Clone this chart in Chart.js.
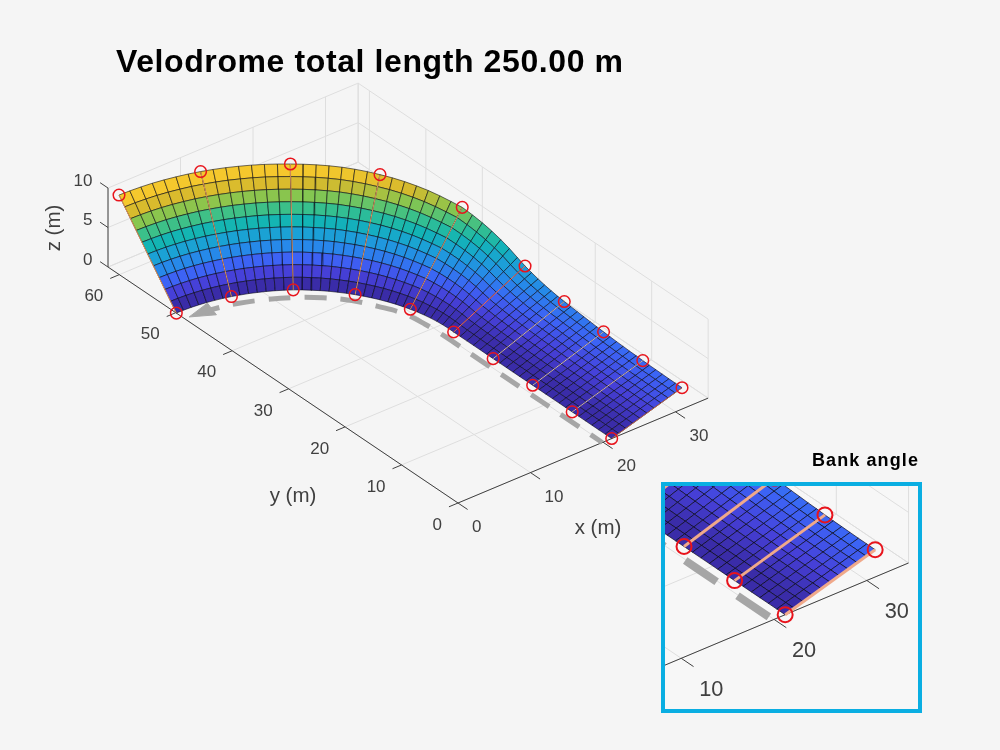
<!DOCTYPE html>
<html><head><meta charset="utf-8">
<script src="https://cdn.jsdelivr.net/npm/chart.js@4"></script>
<style>
html,body{margin:0;padding:0;background:#f5f5f5;width:1000px;height:750px;overflow:hidden}
#main{position:absolute;left:0;top:0}
#box{position:absolute;left:661px;top:482px;width:253px;height:223px;border:4px solid #0aaee2;background:#f7f7f7}
#inset{position:absolute;left:0;top:0;filter:blur(.35px)}
</style></head><body>
<canvas id="main" width="1000" height="750"></canvas>
<div id="box"><canvas id="inset" width="253" height="223"></canvas></div>
<script>
// ---------- values (metres) ----------
const chartTitle = "Velodrome total length 250.00 m";
const insetTitle = "Bank angle";
const xTicks = [0,10,20,30];
const yTicks = [0,10,20,30,40,50,60];
const zTicks = [0,5,10];
const xLimit = 34.5, yLimit = 62, zLimit = 10;
const rowFractions = [0,.1,.2,.3,.4,.5,.6,.7,.8,.9,1];
// inner (z = 0) edge of the track, one value per mesh column
const innerX = [21.2,21.2,21.2,21.2,21.2,21.2,21.2,21.2,21.2,21.2,21.2,21.2,21.2,21.2,21.2,21.2,21.2,21.2,21.2,21.2,21.2,21.2,21.2,21.2,21.2,
 21.21,21.18,21.11,20.99,20.83,20.63,20.38,20.10,19.77,19.40,18.99,18.54,18.05,17.53,16.97,16.36,15.74,15.07,14.36,13.64,12.87,12.06,11.23,10.38,9.50,8.61,7.70,6.77,5.83,4.87,3.91,2.94,1.96,0.98,0];
const innerY = [0,1.17,2.33,3.5,4.67,5.83,7,8.17,9.33,10.5,11.67,12.83,14,15.17,16.33,17.5,18.67,19.83,21,22.17,23.33,24.5,25.67,26.83,28,
 28.95,29.91,30.86,31.81,32.75,33.69,34.62,35.54,36.45,37.34,38.22,39.08,39.92,40.74,41.53,42.30,43.05,43.76,44.44,45.10,45.72,46.28,46.80,47.29,47.73,48.14,48.50,48.83,49.11,49.35,49.55,49.70,49.81,49.88,49.90];
// outer (banked) edge of the track
const outerX = [30.9,30.91,30.91,30.92,30.93,30.93,30.94,30.95,30.95,30.96,30.96,30.97,30.98,30.98,30.99,31.0,31.0,31.01,31.01,31.02,31.03,31.03,31.04,31.04,31.05,
 31.08,31.07,30.98,30.82,30.61,30.32,29.96,29.44,28.92,28.34,27.69,27.00,26.25,25.44,24.59,23.68,22.73,21.73,20.69,19.61,18.49,17.35,16.18,14.97,13.72,12.45,11.14,9.81,8.46,7.08,5.69,4.28,2.86,1.44,0];
const outerY = [0,1.17,2.33,3.5,4.67,5.83,7,8.17,9.33,10.5,11.67,12.83,14,15.17,16.33,17.5,18.67,19.83,21,22.17,23.33,24.5,25.67,26.83,28,
 29.40,30.80,32.20,33.60,34.99,36.37,37.73,39.05,40.36,41.65,42.90,44.13,45.33,46.49,47.61,48.69,49.73,50.73,51.68,52.59,53.44,54.28,55.08,55.81,56.49,57.12,57.69,58.20,58.66,59.04,59.37,59.64,59.84,59.98,60.05];
const outerZ = [2.70,2.70,2.70,2.71,2.72,2.73,2.75,2.78,2.81,2.85,2.89,2.94,3.00,3.06,3.13,3.21,3.29,3.37,3.45,3.55,3.68,3.85,4.05,4.29,4.56,
 4.95,5.42,5.90,6.38,6.83,7.28,7.72,8.03,8.31,8.58,8.82,9.03,9.22,9.38,9.54,9.68,9.80,9.88,9.95,10.0,10.05,10.08,10.10,10.12,10.13,10.14,10.14,10.14,10.13,10.12,10.11,10.10,10.08,10.06,10.05];
const stationColumns = [0,6,12,18,24,31,38,45,52,59];
// dashed direction-of-travel guide on the floor
const guideX = [19.9,19.9,19.9,19.9,19.9,19.75,19.3,18.0,16.5,14.4,12.0,9.3,6.4,3.3,1.2];
const guideY = [0,7,14,21,28,31.2,34.3,37.3,40.0,42.4,44.4,46.0,47.3,48.1,48.4];
const arrowX = [0.6,3.9,3.2,0.6];
const arrowY = [48.4,49.4,46.9,48.4];
// surface colour by height (z = 0.5, 1.5 ... 9.5)
const colourStops = ["#3a2ca8","#4640d8","#3d62f5","#2788ea","#1ba1d6","#12b4b5","#38c08c","#85c650","#d7ba2d","#f5c82d"];
const stationLineColours = ["#b4604a","#cbb0a8","#cdb8b0","#d0b4a8","#f86a55","#d98a60","#d99060","#d99060","#d99060","#d98a50"];

// ---------- 3-D view ----------
function project(x,y,z){ return {x:7.25*x-5.645*y, y:3.04*x+3.806*y+7.9*z}; }
function hex(c){ return [1,3,5].map(i=>parseInt(c.substr(i,2),16)); }
function colourFor(z){
  const t=Math.max(0,Math.min(colourStops.length-1,z-0.5)), i=Math.min(colourStops.length-2,Math.floor(t)), f=t-i;
  const a=hex(colourStops[i]), b=hex(colourStops[i+1]);
  return `rgb(${a.map((v,k)=>Math.round(v+(b[k]-v)*f)).join(",")})`;
}
function line(pts,colour,width,order,extra){
  return Object.assign({data:pts.map(p=>project(p[0],p[1],p[2])),showLine:true,pointRadius:0,borderColor:colour,borderWidth:width,order:order},extra||{});
}
function meshPoint(c,f){ return [innerX[c]+(outerX[c]-innerX[c])*f, innerY[c]+(outerY[c]-innerY[c])*f, outerZ[c]*f]; }

function buildDatasets(k,inset){
  const ds=[], grid="#dedede", ax="#404040";
  const xs=[...xTicks,xLimit], ys=[...yTicks,yLimit], zs=[...zTicks];
  xs.forEach(x=>{ ds.push(line([[x,0,0],[x,yLimit,0],[x,yLimit,zLimit]],grid,1,50)); });
  ys.forEach(y=>{ ds.push(line([[0,y,0],[xLimit,y,0],[xLimit,y,zLimit]],grid,1,50)); });
  zs.forEach(z=>{ ds.push(line([[0,yLimit,z],[xLimit,yLimit,z],[xLimit,0,z]],grid,1,50)); });
  ds.push(line([[0,yLimit,0],[0,0,0],[xLimit,0,0]],ax,1,45));
  ds.push(line([[0,yLimit,0],[0,yLimit,zLimit]],ax,1,45));
  xTicks.forEach(x=>ds.push(line([[x,0,0],[x,-1.7,0]],ax,1,45)));
  yTicks.forEach(y=>ds.push(line([[0,y,0],[-1.25,y,0]],ax,1,45)));
  zTicks.forEach(z=>ds.push(line([[0,yLimit,z],[0,yLimit+1.4,z]],ax,1,45)));
  // guide
  ds.push(line(guideX.map((x,i)=>[x,guideY[i],0]),"#a6a6a6",inset?8:5,40,{tension:.4,borderDash:inset?[38,25]:[22,14],borderDashOffset:inset?-5:8,borderCapStyle:"butt"}));
  ds.push(line(arrowX.map((x,i)=>[x,arrowY[i],0]),"#a6a6a6",1,40,{polyFill:"#a6a6a6"}));
  // surface cells
  for(let c=0;c<innerX.length-1;c++){
    for(let r=0;r<rowFractions.length-1;r++){
      const a=meshPoint(c,rowFractions[r]), b=meshPoint(c+1,rowFractions[r]), d=meshPoint(c,rowFractions[r+1]), e=meshPoint(c+1,rowFractions[r+1]);
      ds.push(line([a,b,e,d,a],"rgba(5,5,15,.72)",inset?0.9:0.8,30,{polyFill:colourFor((a[2]+b[2]+d[2]+e[2])/4)}));
    }
  }
  // bank lines + markers
  stationColumns.forEach((c,i)=>{
    ds.push(line([meshPoint(c,0),meshPoint(c,1)],inset?"#f0a98a":stationLineColours[i],inset?3:1,20));
  });
  const ring=cols=>cols.map(p=>project(p[0],p[1],p[2]));
  ds.push({data:ring(stationColumns.map(c=>meshPoint(c,0))),showLine:false,pointRadius:inset?7.5:5.8,pointBackgroundColor:"rgba(0,0,0,0)",pointBorderColor:"#e8141c",pointBorderWidth:inset?2:1.5,order:10});
  ds.push({data:ring(stationColumns.map(c=>meshPoint(c,1))),showLine:false,pointRadius:inset?7.5:5.8,pointBackgroundColor:"rgba(0,0,0,0)",pointBorderColor:"#e8141c",pointBorderWidth:inset?2:1.5,order:10});
  return ds;
}

const polygonFill={id:"polygonFill",beforeDatasetDraw(chart,args){
  const f=chart.data.datasets[args.index].polyFill; if(!f) return;
  const pts=args.meta.data, g=chart.ctx; g.save(); g.beginPath();
  pts.forEach((p,i)=>i?g.lineTo(p.x,p.y):g.moveTo(p.x,p.y)); g.closePath(); g.fillStyle=f; g.fill(); g.restore();
}};
const tickText={id:"tickText",afterDraw(chart){
  const o=chart.options.plugins.tickText, k=o.k, g=chart.ctx, sx=chart.scales.x, sy=chart.scales.y;
  const at=(x,y,z)=>{const p=project(x,y,z);return [sx.getPixelForValue(p.x),sy.getPixelForValue(p.y)];};
  g.save(); g.fillStyle="#404040"; g.font=`${17*k}px "Liberation Sans"`; g.textBaseline="middle";
  g.textAlign="left";
  xTicks.forEach(x=>{const [a,b]=at(x,0,0); g.fillText(String(x),a+14*k,b+24.5*k);});
  g.textAlign="right";
  yTicks.forEach(y=>{const [a,b]=at(0,y,0); g.fillText(String(y),a-16*k,b+22*k);});
  zTicks.forEach(z=>{const [a,b]=at(0,yLimit,z); g.fillText(String(z),a-15.5*k,b-7*k);});
  if(o.labels){
    g.font='20.5px "Liberation Sans"'; g.textAlign="center";
    g.fillText("x (m)",598,528); g.fillText("y (m)",293,496);
    g.save(); g.translate(54,228); g.rotate(-Math.PI/2); g.fillText("z (m)",0,0); g.restore();
    g.fillStyle="#000"; g.textAlign="left"; g.textBaseline="alphabetic";
    g.font='bold 32px "Liberation Sans"'; if("letterSpacing" in g) g.letterSpacing="0.6px"; g.fillText(chartTitle,116,72);
    g.font='bold 18px "Liberation Sans"'; if("letterSpacing" in g) g.letterSpacing="1.1px"; g.textAlign="right"; g.fillText(insetTitle,919,466);
  }
  g.restore();
}};
function make(id,k,inset,xr,yr){
  return new Chart(document.getElementById(id),{type:"scatter",plugins:[polygonFill,tickText],
    data:{datasets:buildDatasets(k,inset)},
    options:{responsive:false,animation:false,devicePixelRatio:1,events:[],
      layout:{padding:0,autoPadding:false},
      scales:{x:{type:"linear",display:false,min:xr[0],max:xr[1]},y:{type:"linear",display:false,min:yr[0],max:yr[1]}},
      plugins:{legend:{display:false},tooltip:{enabled:false},title:{display:false},tickText:{k:k,labels:!inset}}}});
}
make("main",1,false,[-458,542],[-247,503]);
make("inset",1.28,true,[59.8,257.5],[-9.2,165]);
</script></body></html>
